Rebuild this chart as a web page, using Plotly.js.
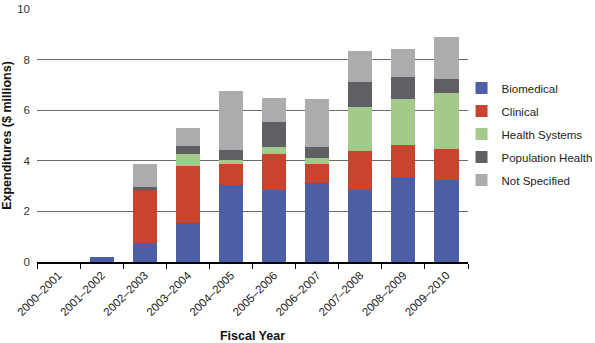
<!DOCTYPE html>
<html>
<head>
<meta charset="utf-8">
<script src="https://cdn.plot.ly/plotly-3.0.1.min.js"></script>
<style>
  html, body { margin: 0; padding: 0; background: #fff; }
  #chart { width: 595px; height: 343px; }
</style>
</head>
<body>
<div id="chart"></div>
<script>
// fiscal years on the x axis
const fiscalYears = ['2000\u20132001', '2001\u20132002', '2002\u20132003', '2003\u20132004', '2004\u20132005',
    '2005\u20132006', '2006\u20132007', '2007\u20132008', '2008\u20132009', '2009\u20132010'];

// expenditures, $ millions
const biomedical       = [0, 0.20, 0.74, 1.53, 3.04, 2.86, 3.12, 2.83, 3.37, 3.25];
const clinical         = [0, 0,    2.10, 2.27, 0.83, 1.39, 0.77, 1.55, 1.24, 1.21];
const healthSystems    = [0, 0,    0,    0.45, 0.18, 0.30, 0.22, 1.74, 1.82, 2.22];
const populationHealth = [0, 0,    0.12, 0.34, 0.37, 1.00, 0.44, 1.01, 0.87, 0.57];
const notSpecified     = [0, 0,    0.91, 0.69, 2.32, 0.95, 1.88, 1.21, 1.12, 1.63];

const seriesNames = ['Biomedical', 'Clinical', 'Health Systems', 'Population Health', 'Not Specified'];
const seriesValues = [biomedical, clinical, healthSystems, populationHealth, notSpecified];
const seriesColors = ['#4b5ea6', '#c9442f', '#a3c98b', '#5f6064', '#abacae'];

const font = 'Liberation Sans, Arial, sans-serif';

function makeTraces() {
    return seriesNames.map(function (name, i) {
        return {
            type: 'bar',
            name: name,
            x: fiscalYears,
            y: seriesValues[i],
            legendgroup: name,
            marker: {color: seriesColors[i], line: {width: 0}},
            hoverinfo: 'x+y+name'
        };
    });
}

const layout = {
    width: 595,
    height: 343,
    barmode: 'stack',
    bargap: 0.44,
    paper_bgcolor: '#fff',
    plot_bgcolor: '#fff',
    font: {family: font, color: '#222', size: 11},
    margin: {l: 37, r: 127, t: 9, b: 81, pad: 0, autoexpand: false},
    showlegend: true,
    legend: {
        x: 0.985,
        y: 0.745,
        xanchor: 'left',
        yanchor: 'top',
        traceorder: 'grouped',
        tracegroupgap: 4,
        font: {family: font, size: 11.5, color: '#222'},
        bgcolor: 'rgba(0,0,0,0)'
    },
    xaxis: {
        type: 'category',
        showgrid: false,
        showline: true,
        linecolor: '#000',
        linewidth: 2,
        ticks: 'outside',
        tickson: 'boundaries',
        ticklen: 5,
        tickcolor: '#000',
        tickwidth: 1,
        tickangle: -45,
        tickfont: {family: font, size: 11.5, color: '#222'},
        title: {text: '<b>Fiscal Year</b>', font: {family: font, size: 12.5, color: '#111'}, standoff: 16},
        automargin: false
    },
    yaxis: {
        range: [0, 10],
        dtick: 2,
        showgrid: true,
        gridcolor: '#6b6b6b',
        gridwidth: 1,
        zeroline: false,
        showline: false,
        ticks: '',
        ticklabelstandoff: 6,
        tickfont: {family: font, size: 11.5, color: '#333'},
        title: {text: '<b>Expenditures ($ millions)</b>', font: {family: font, size: 12.5, color: '#111'}, standoff: 4},
        automargin: false
    }
};

Plotly.newPlot('chart', makeTraces(), layout, {displayModeBar: false, staticPlot: true});
</script>
</body>
</html>
